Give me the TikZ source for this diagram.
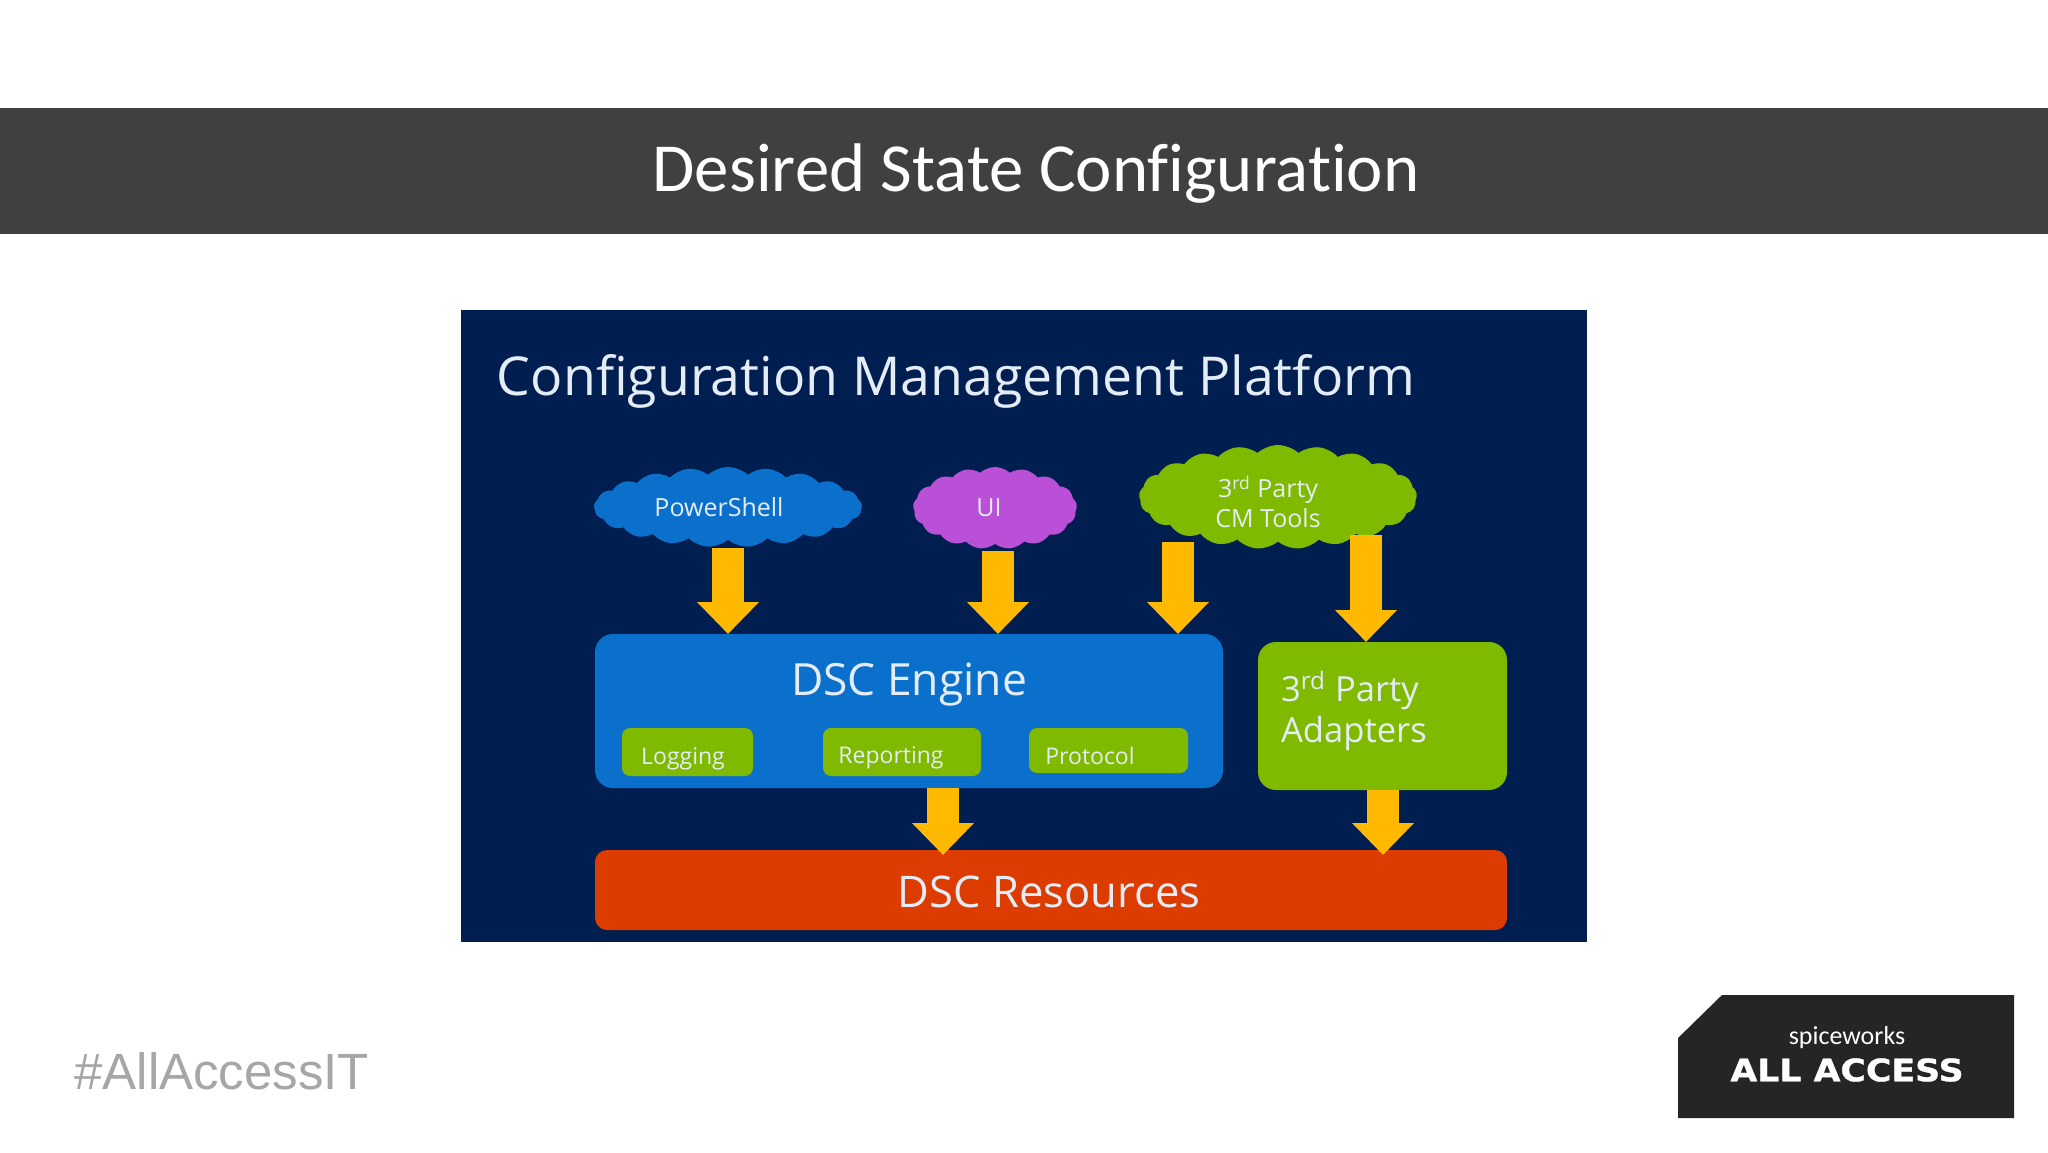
\documentclass[tikz,border=0pt]{standalone}
\usepackage{fontspec}
\usepackage{tikz}
\usetikzlibrary{positioning,shapes.symbols,arrows.meta}
\setmainfont{Open Sans}
\newfontfamily\titlefont[Ligatures=NoCommon]{Carlito}
\newfontfamily\spicefont{Carlito}
\newfontfamily\tagfont{Liberation Sans}
\newfontfamily\logofont[FakeStretch=1.12,FakeBold=1]{DejaVu Sans Bold}
\definecolor{sbar}{HTML}{404040}
\definecolor{snavy}{HTML}{001E50}
\definecolor{sblue}{HTML}{0A70CC}
\definecolor{spurple}{HTML}{BA4FD8}
\definecolor{sgreen}{HTML}{7FBA00}
\definecolor{sred}{HTML}{DC3C00}
\definecolor{syellow}{HTML}{FFB900}
\definecolor{slogo}{HTML}{252525}
\definecolor{stext}{HTML}{E4ECF5}
\tikzset{
     panel/.style={inner sep=0,outer sep=0,rounded corners=9pt},
     small/.style={panel,fill=sgreen,rounded corners=4pt,minimum height=24pt},
     puff/.style={cloud,cloud puffs=21,cloud puff arc=85,inner sep=0,outer sep=0},
     word/.style={text=stext,inner sep=0,outer sep=0},
     smallword/.style={word,anchor=base,font=\fontsize{11.5}{14}\selectfont},
     cloudword/.style={word,align=center,font=\fontsize{12.5}{15}\selectfont},
     bigarrow/.style={syellow,line width=16pt,-{Triangle[length=16pt,width=30pt]}}
}
\begin{document}
\begin{tikzpicture}[x=0.5pt,y=-0.5pt]
     \path[fill=white,use as bounding box] (0,0) rectangle (2048,1152);

     \node[fill=sbar,inner sep=0,outer sep=0,minimum width=1024pt,minimum height=63pt,anchor=north west] (bar) at (0,108) {};
     \node[text=white,inner sep=0,font=\titlefont\fontsize{34.4}{40}\selectfont] (title) at (1036,174) {Desired State Configuration};

     \node[fill=snavy,inner sep=0,outer sep=0,minimum width=563pt,minimum height=316pt,anchor=north west] (screen) at (461,310) {};
     \node[word,font=\fontsize{26.8}{32}\selectfont] (heading) at (956,381) {Configuration Management Platform};

     \node[puff,fill=sblue,aspect=3.3,minimum width=134pt,minimum height=40pt] (ps) at (728,507) {};
     \node[puff,fill=spurple,cloud puffs=17,aspect=2,minimum width=82pt,minimum height=41pt] (ui) at (995,508) {};
     \node[puff,fill=sgreen,aspect=2.6,minimum width=139pt,minimum height=52pt] (cm) at (1278,497) {};

     \node[cloudword] (pstext) at (719,507) {PowerShell};
     \node[cloudword] (uitext) at (989,508) {UI};
     \node[cloudword] (cmtext) at (1268,502) {3\textsuperscript{rd} Party\\CM Tools};

     \node[panel,fill=sblue,minimum width=314pt,minimum height=77pt,anchor=north west] (engine) at (595,634) {};
     \node[panel,fill=sgreen,minimum width=124.5pt,minimum height=74pt,anchor=north west] (adapters) at (1258,642) {};
     \node[panel,fill=sred,rounded corners=6pt,minimum width=456pt,minimum height=40pt,anchor=north west] (resources) at (595,850) {};

     \node[small,minimum width=65.5pt,anchor=north west] (logging) at (622,728) {};
     \node[small,minimum width=79pt,right=35pt of logging] (reporting) {};
     \node[small,minimum width=79.5pt,minimum height=22.5pt,anchor=north west] (protocol) at ([xshift=24pt]reporting.north east) {};

     \node[word,font=\fontsize{22.2}{26}\selectfont] (enginetext) at (909,685) {DSC Engine};
     \node[smallword] (loggingtext) at (683,764) {Logging};
     \node[smallword] (reportingtext) at (891,763) {Reporting};
     \node[smallword] (protocoltext) at (1090,764) {Protocol};
     \node[word,align=left,anchor=west,font=\fontsize{17.3}{20.5}\selectfont] (adapterstext) at (1281,711) {3\textsuperscript{rd} Party\\Adapters};
     \node[word,font=\fontsize{21.8}{26}\selectfont] (resourcestext) at (1049,892) {DSC Resources};

     \coordinate (psfoot) at (728,548);
     \coordinate (uifoot) at (998,551);
     \coordinate (cmleft) at (1178,542);
     \coordinate (cmright) at (1366,535);
     \coordinate (enginefoot) at (943,788);
     \coordinate (adaptersfoot) at (1383,790);

     \draw[bigarrow] (psfoot) -- (psfoot |- engine.north);
     \draw[bigarrow] (uifoot) -- (uifoot |- engine.north);
     \draw[bigarrow] (cmleft) -- (cmleft |- engine.north);
     \draw[bigarrow] (cmright) -- (cmright |- adapters.north);
     \draw[bigarrow,shorten >=-2.5pt] (enginefoot) -- (enginefoot |- resources.north);
     \draw[bigarrow,shorten >=-2.5pt] (adaptersfoot) -- (adaptersfoot |- resources.north);

     \node[text=black!35,inner sep=0,anchor=west,font=\tagfont\fontsize{25.5}{30}\selectfont] (tag) at (74,1071) {\#AllAccessIT};

     \path[fill=slogo] (1722,995) -- (2014,995) -- (2014,1118) -- (1678,1118) -- (1678,1038) -- cycle;
     \node[text=white,inner sep=0,font=\spicefont\fontsize{13}{15}\selectfont] (spiceworks) at (1847,1038) {spiceworks};
     \node[text=white,inner sep=0,font=\logofont\fontsize{15.5}{18}\selectfont] (allaccess) at (1847,1070) {ALL ACCESS};
\end{tikzpicture}
\end{document}
